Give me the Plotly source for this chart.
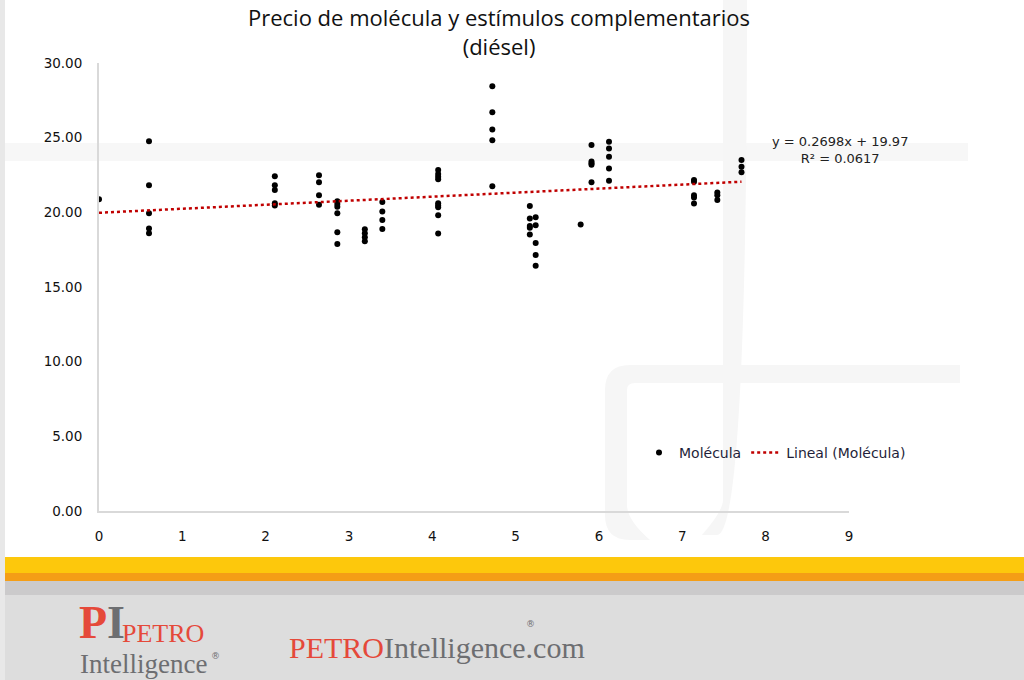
import plotly.graph_objects as go

# ---------------- data ----------------
group_x = [0.00, 0.60, 2.11, 2.64, 2.86, 3.19, 3.40, 4.07, 4.72, 5.17, 5.24, 5.78, 5.91, 6.12, 7.14, 7.42, 7.71]
group_y = [
    [20.88],
    [24.76, 21.81, 19.94, 18.91, 18.60],
    [22.42, 21.81, 21.50, 20.61, 20.45],
    [22.48, 22.02, 21.15, 20.50],
    [20.74, 20.56, 20.38, 19.94, 18.67, 17.88],
    [18.87, 18.60, 18.33, 18.06],
    [20.70, 20.05, 19.49, 18.89],
    [22.84, 22.57, 22.39, 22.22, 20.61, 20.45, 20.34, 19.81, 18.58],
    [28.45, 26.70, 25.54, 24.83, 21.75],
    [20.43, 19.58, 19.09, 18.96, 18.51],
    [19.67, 19.13, 17.95, 17.15, 16.43],
    [19.18],
    [24.51, 23.40, 23.29, 23.18, 22.02],
    [24.73, 24.27, 23.73, 22.93, 22.12],
    [22.17, 22.04, 21.15, 20.99, 20.59],
    [21.32, 21.15, 20.83],
    [23.51, 23.06, 22.68],
]
trend_slope = 0.2698
trend_intercept = 19.97
r_squared = 0.0617
x_ticks = [0, 1, 2, 3, 4, 5, 6, 7, 8, 9]
y_ticks = [0, 5, 10, 15, 20, 25, 30]
y_tick_labels = ["0.00", "5.00", "10.00", "15.00", "20.00", "25.00", "30.00"]
title_text = "Precio de molécula y estímulos complementarios<br>(diésel)"

xs, ys = [], []
for gx, gy in zip(group_x, group_y):
    for v in gy:
        xs.append(gx)
        ys.append(v)

# ---------------- layout helpers (pixel -> paper) ----------------
W, H = 1024, 680
L, R, T, B = 99, 849, 63, 511


def px(xp):
    return (xp - L) / (R - L)


def py(yp):
    return (B - yp) / (B - T)


fig = go.Figure()

fig.add_trace(go.Scatter(
    x=xs, y=ys, mode="markers", name="Molécula",
    marker=dict(color="#000000", size=6),
))

tx = [min(xs), max(xs)]
ty = [trend_slope * v + trend_intercept for v in tx]
fig.add_trace(go.Scatter(
    x=tx, y=ty, mode="lines", name="Lineal (Molécula)",
    line=dict(color="#C00000", width=2.5, dash="dot"),
))

shapes = []


def rect(x0, y0, x1, y1, color):
    shapes.append(dict(type="rect", xref="paper", yref="paper",
                       x0=px(x0), x1=px(x1), y0=py(y0), y1=py(y1),
                       fillcolor=color, line=dict(width=0), layer="below"))


def path(points, color):
    d = ""
    for cmd, pts in points:
        d += cmd + " " + " ".join(f"{px(a):.5f},{py(b):.5f}" for a, b in pts) + " "
    d += "Z"
    shapes.append(dict(type="path", xref="paper", yref="paper", path=d,
                       fillcolor=color, line=dict(width=0), layer="below"))


# watermark
wm = "#f6f6f6"
rect(5, 143, 968, 161, "#f7f7f7")
path([("M", [(723, 0)]), ("L", [(747, 0), (747, 505)]), ("Q", [(747, 535), (717, 535)]),
      ("L", [(702, 535), (702, 511), (717, 511)]), ("Q", [(723, 511), (723, 500)])], wm)
path([("M", [(960, 365)]), ("L", [(630, 365)]), ("Q", [(605, 365), (605, 390)]),
      ("L", [(605, 515)]), ("Q", [(605, 540), (630, 540)]), ("L", [(650, 540), (650, 520), (635, 520)]),
      ("Q", [(627, 520), (627, 505)]), ("L", [(627, 390)]), ("Q", [(627, 383), (635, 383)]),
      ("L", [(960, 383)])], wm)

# left strip
rect(0, 0, 5, 680, "#e8e8e8")
# footer
rect(5, 557, 1024, 573, "#FDC80C")
rect(5, 573, 1024, 581, "#F49E16")
rect(5, 581, 1024, 595, "#CBCACB")
rect(5, 595, 1024, 680, "#DDDDDD")

ann = []
ann.append(dict(text=title_text, xref="paper", yref="paper", x=px(499), y=py(31),
                xanchor="center", yanchor="middle", showarrow=False,
                font=dict(family="Open Sans", size=22, color="#111111")))
ann.append(dict(text=f"y = {trend_slope}x + {trend_intercept}<br>R² = {r_squared}",
                xref="paper", yref="paper", x=px(840), y=py(150),
                xanchor="center", yanchor="middle", showarrow=False, align="center",
                font=dict(family="DejaVu Sans", size=13, color="#222222")))

slab = "Liberation Serif"
red = "#E5493A"
gray = "#6D6E71"
ann.append(dict(text=f"<b><span style='color:{red}'>P</span><span style='color:{gray}'>I</span></b>",
                xref="paper", yref="paper", x=px(78), y=py(649), xanchor="left", yanchor="bottom",
                showarrow=False, borderpad=0, font=dict(family=slab, size=46)))
ann.append(dict(text="PETRO", xref="paper", yref="paper", x=px(121), y=py(649),
                xanchor="left", yanchor="bottom", showarrow=False, borderpad=0,
                font=dict(family=slab, size=26, color=red)))
ann.append(dict(text="Intelligence", xref="paper", yref="paper", x=px(79), y=py(648),
                xanchor="left", yanchor="top", showarrow=False, borderpad=0,
                font=dict(family=slab, size=27, color=gray)))
ann.append(dict(text="®", xref="paper", yref="paper", x=px(210), y=py(656),
                xanchor="left", yanchor="middle", showarrow=False, borderpad=0,
                font=dict(family="DejaVu Sans", size=9, color=gray)))
ann.append(dict(text=f"<span style='color:{red}'>PETRO</span><span style='color:{gray}'>Intelligence.com</span>",
                xref="paper", yref="paper", x=px(288), y=py(630), xanchor="left", yanchor="top",
                showarrow=False, borderpad=0, font=dict(family=slab, size=30)))
ann.append(dict(text="®", xref="paper", yref="paper", x=px(525), y=py(630),
                xanchor="left", yanchor="bottom", showarrow=False, borderpad=0,
                font=dict(family="DejaVu Sans", size=9, color=gray)))

fig.update_layout(
    width=W, height=H,
    margin=dict(l=L, r=W - R, t=T, b=H - B, autoexpand=False),
    paper_bgcolor="#ffffff",
    plot_bgcolor="rgba(0,0,0,0)",
    showlegend=True,
    legend=dict(orientation="h", x=px(639), y=py(453), xanchor="left", yanchor="middle",
                bgcolor="rgba(0,0,0,0)", font=dict(family="DejaVu Sans", size=14, color="#1f1f3a"),
                itemwidth=30, tracegroupgap=0),
    shapes=shapes,
    annotations=ann,
    xaxis=dict(range=[0, 9], tickvals=x_ticks, showgrid=False, zeroline=False,
               showline=True, linecolor="#d9d9d9", linewidth=2, ticks="",
               ticklabelstandoff=12,
               tickfont=dict(family="DejaVu Sans", size=13.5, color="#111111")),
    yaxis=dict(range=[0, 30], tickvals=y_ticks, ticktext=y_tick_labels, showgrid=False,
               zeroline=False, showline=True, linecolor="#d9d9d9", linewidth=2, ticks="",
               ticklabelstandoff=12,
               tickfont=dict(family="DejaVu Sans", size=13.5, color="#111111")),
)

fig.write_html(
    "out.html",
    config={"displayModeBar": False},
    post_script="document.body.style.margin='0';document.body.style.padding='0';"
                "document.body.style.overflow='hidden';",
)
